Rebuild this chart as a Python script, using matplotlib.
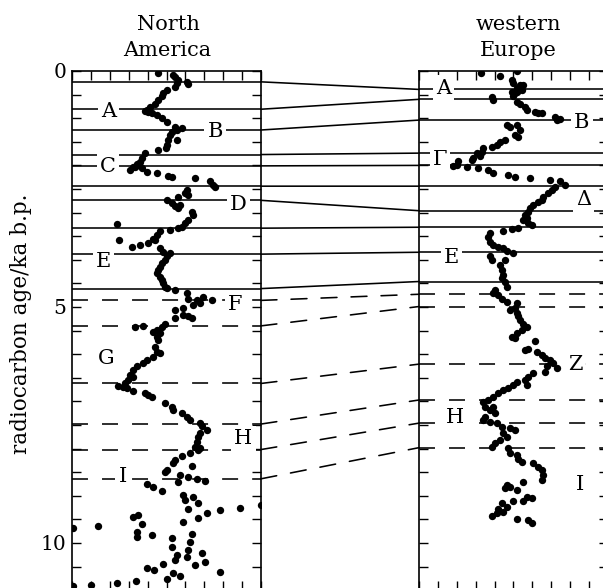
import matplotlib
matplotlib.use('Agg')
import matplotlib.pyplot as plt
from matplotlib.patches import ConnectionPatch
import numpy as np

plt.rcParams['font.family'] = ['DejaVu Serif']

# ---------------- data (x: arbitrary 0-10 units, age: ka b.p.) ----------------
na_x = [
    4.57, 5.36, 5.45, 5.63, 5.54, 5.45, 6.07, 6.12, 5.01, 4.83, 4.74, 4.57, 4.39, 4.13, 3.95, 3.86, 4.04, 4.22, 4.48, 4.74, 5.01,
    5.45, 5.54, 5.80, 5.27, 5.19, 5.54, 5.10, 5.01, 4.97, 4.57, 3.86, 3.69, 3.60, 3.42, 3.25, 3.07, 3.33, 3.51, 3.69, 3.95, 4.48, 5.10, 5.27, 6.51, 7.30, 7.48, 7.57,
    6.07, 5.98, 6.16, 5.63, 5.01, 5.27, 5.45, 5.63, 5.71, 6.33, 6.42, 6.16, 5.98, 5.80, 5.63, 5.19, 4.66, 4.48, 4.39, 2.36, 2.49, 3.16, 3.60, 4.04, 4.30,
    4.66, 4.83, 5.19, 5.01, 4.92, 4.74, 4.66, 4.57, 4.48, 4.66, 4.74, 4.83, 4.92, 5.01, 5.45, 6.07, 6.16, 6.60, 6.77, 6.95, 7.39, 6.42, 5.89, 5.45,
    5.45, 5.89, 6.16, 6.33, 4.92, 4.74, 4.48, 4.30, 3.77, 3.33, 4.66, 4.48, 4.57, 4.39, 4.48, 4.66, 4.30, 3.95, 3.77, 3.42, 3.25, 3.07, 3.25, 2.98, 2.80, 2.45, 2.72, 2.89, 3.25, 3.86, 4.04, 4.22,
    4.92, 5.27, 5.36, 5.80, 6.07, 6.24, 6.77, 6.86, 7.13, 6.77, 6.68, 6.60, 6.51, 6.68, 6.77, 6.24, 5.80, 5.45, 5.36, 5.01, 4.92, 6.33, 5.71, 6.16, 6.60, 7.04, 5.63, 3.95, 4.30, 4.74,
    5.89, 5.98, 6.42, 6.68, 6.16, 7.13, 7.83, 8.89, 10.0, 3.25, 3.51, 3.69, 1.39, 0.05, 5.89, 6.68, 6.33, 6.24, 6.16, 6.86, 3.42, 3.42, 4.22, 5.27, 5.27, 5.54, 5.45, 6.07, 3.95, 4.34, 4.83, 5.36, 5.71, 5.01, 6.51, 7.04, 7.83, 0.05, 0.99, 2.36, 3.39,
]
na_age = [
    0.05, 0.08, 0.12, 0.19, 0.26, 0.33, 0.23, 0.28, 0.40, 0.47, 0.54, 0.61, 0.69, 0.76, 0.83, 0.84, 0.86, 0.90, 0.93, 1.00, 1.07,
    1.18, 1.25, 1.21, 1.29, 1.36, 1.46, 1.46, 1.57, 1.64, 1.67, 1.74, 1.85, 1.92, 1.96, 2.03, 2.10, 2.03, 1.99, 2.06, 2.13, 2.17, 2.22, 2.25, 2.27, 2.34, 2.42, 2.45,
    2.52, 2.59, 2.63, 2.66, 2.73, 2.80, 2.87, 2.91, 2.84, 2.98, 3.05, 3.16, 3.23, 3.30, 3.33, 3.37, 3.40, 3.47, 3.58, 3.25, 3.57, 3.72, 3.69, 3.64, 3.55,
    3.76, 3.83, 3.86, 3.93, 4.00, 4.07, 4.15, 4.22, 4.29, 4.36, 4.43, 4.50, 4.57, 4.60, 4.64, 4.71, 4.82, 4.85, 4.92, 4.78, 4.85, 4.96, 5.03, 5.06,
    5.24, 5.17, 5.20, 5.24, 5.35, 5.42, 5.49, 5.52, 5.40, 5.43, 5.56, 5.63, 5.70, 5.84, 5.95, 5.98, 6.05, 6.12, 6.19, 6.26, 6.33, 6.44, 6.48, 6.55, 6.62, 6.67, 6.69, 6.72, 6.77, 6.83, 6.86, 6.90,
    7.04, 7.11, 7.18, 7.25, 7.32, 7.39, 7.46, 7.53, 7.61, 7.68, 7.75, 7.85, 7.96, 8.03, 7.99, 8.10, 8.16, 8.24, 8.31, 8.45, 8.49, 8.37, 8.56, 8.60, 8.65, 8.68, 8.70, 8.75, 8.82, 8.89,
    8.98, 9.09, 9.02, 9.16, 9.27, 9.37, 9.30, 9.25, 9.20, 9.44, 9.41, 9.60, 9.64, 9.69, 9.55, 9.48, 9.80, 9.97, 10.15, 10.21, 9.76, 9.88, 9.83, 9.90, 10.08, 10.25, 10.36, 10.29, 10.52, 10.57, 10.45, 10.64, 10.70, 10.76, 10.47, 10.40, 10.61, 10.91, 10.88, 10.84, 10.81,
]

eu_x = [
    3.26, 4.29, 5.17, 4.90, 4.99, 5.34, 5.52, 5.17, 4.90, 5.17, 5.43, 5.08, 3.84, 3.93, 4.99, 5.17, 5.34, 5.61, 5.70, 6.14, 6.31, 6.49, 7.20, 7.28, 7.46,
    4.64, 4.81, 5.17, 5.34, 5.08, 5.26, 4.55, 4.29, 4.11, 3.84, 3.40, 3.32, 3.05, 3.23, 2.87, 2.79, 2.08, 1.99, 1.82, 2.52, 3.14, 3.67, 3.93, 4.73, 5.08, 5.87,
    6.93, 7.46, 7.72, 7.20, 7.02, 6.84, 6.58, 6.49, 6.31, 6.05, 5.87, 5.78, 5.61, 5.70, 5.52, 5.78, 5.96, 5.26, 4.90, 4.46,
    3.76, 3.67, 3.76, 3.93, 4.20, 4.46, 4.64, 4.99, 3.76, 3.84, 4.55, 4.29, 4.37, 4.46, 4.37, 4.55, 4.64, 4.02, 3.93, 4.20, 4.37, 4.64, 5.17, 5.08, 4.81, 5.17,
    5.26, 5.34, 5.52, 5.70, 5.43, 5.17, 4.90, 5.08, 6.14, 5.78, 5.61, 6.23, 6.49, 6.67, 6.93, 7.11, 6.75, 7.28, 6.67,
    6.05, 5.78, 5.61, 5.70, 5.17, 4.99, 4.73, 4.46, 4.20, 3.93, 3.67, 3.40, 3.49, 3.93, 3.76, 4.02, 3.49, 3.40, 3.76, 4.11, 4.37, 4.81, 5.08, 4.46, 4.64, 4.29, 4.02, 3.84,
    4.73, 4.81, 5.17, 5.26, 5.43, 6.05, 6.31, 6.49, 6.58, 6.49, 4.64, 4.55, 4.81, 5.17, 5.52, 5.70, 5.96, 5.52, 4.99, 4.64, 4.37, 4.20, 4.46, 4.11, 3.84, 5.17, 5.78, 5.96,
]
eu_age = [
    0.05, 0.10, 0.01, 0.19, 0.26, 0.30, 0.30, 0.37, 0.44, 0.44, 0.40, 0.47, 0.56, 0.61, 0.54, 0.65, 0.69, 0.76, 0.83, 0.86, 0.88, 0.90, 0.97, 1.04, 1.02,
    1.14, 1.18, 1.14, 1.25, 1.36, 1.39, 1.46, 1.50, 1.57, 1.60, 1.64, 1.71, 1.74, 1.81, 1.85, 1.89, 1.90, 1.99, 2.01, 2.03, 2.06, 2.10, 2.17, 2.20, 2.24, 2.27,
    2.31, 2.34, 2.42, 2.45, 2.52, 2.59, 2.66, 2.73, 2.77, 2.84, 2.91, 2.98, 3.05, 3.12, 3.16, 3.23, 3.26, 3.33, 3.35, 3.38,
    3.44, 3.51, 3.62, 3.69, 3.72, 3.76, 3.81, 3.85, 3.93, 4.00, 4.00, 4.11, 4.22, 4.32, 4.39, 4.46, 4.57, 4.64, 4.71, 4.75, 4.82, 4.89, 4.92, 5.03, 5.06, 5.13,
    5.20, 5.28, 5.35, 5.42, 5.49, 5.56, 5.63, 5.66, 5.73, 5.88, 5.91, 5.95, 6.02, 6.09, 6.12, 6.19, 6.26, 6.30, 6.37,
    6.40, 6.48, 6.55, 6.65, 6.58, 6.65, 6.72, 6.76, 6.83, 6.90, 6.97, 7.01, 7.11, 7.11, 7.18, 7.25, 7.32, 7.39, 7.43, 7.46, 7.54, 7.57, 7.61, 7.68, 7.75, 7.82, 7.89, 7.96,
    7.99, 8.10, 8.14, 8.21, 8.28, 8.31, 8.38, 8.45, 8.56, 8.67, 8.77, 8.84, 8.81, 8.88, 8.70, 9.02, 9.05, 9.12, 9.12, 9.23, 9.16, 9.27, 9.34, 9.37, 9.43, 9.49, 9.52, 9.58,
]

# correlation lines (age in each record)
line_na_age = [0.23, 0.81, 1.25, 1.77, 2.01, 2.44, 2.74, 3.33, 3.88, 4.61, 4.86, 5.40, 6.62, 7.48, 8.02, 8.64]
line_eu_age = [0.39, 0.60, 1.04, 1.74, 2.00, 2.44, 2.96, 3.31, 3.84, 4.46, 4.73, 4.99, 6.21, 6.97, 7.46, 7.98]
line_dashed = [False] * 10 + [True] * 6

# feature labels
na_labels = ['A', 'B', 'C', 'D', 'E', 'F', 'G', 'H', 'I']
na_label_x = [1.92, 7.57, 1.92, 8.80, 1.66, 8.62, 1.83, 9.07, 2.68]
na_label_age = [0.83, 1.25, 1.99, 2.80, 4.00, 4.92, 6.05, 7.76, 8.56]
eu_labels = ['A', 'B', 'Γ', 'Δ', 'E', 'Z', 'H', 'I']
eu_label_x = [1.29, 8.61, 1.11, 8.70, 1.73, 8.25, 1.90, 8.52]
eu_label_age = [0.33, 1.07, 1.85, 2.70, 3.93, 6.19, 7.32, 8.74]

assert len(na_x) == len(na_age) and len(eu_x) == len(eu_age)

# ---------------- figure ----------------
W, H = 603, 588
fig = plt.figure(figsize=(W / 100, H / 100), dpi=100)

AGE_MAX = 11.0
px_per_ka = 47.2
top_px = 71
bottom_px = top_px + AGE_MAX * px_per_ka
panel_w = 189

def make_axes(left_px):
    ax = fig.add_axes([left_px / W, (H - bottom_px) / H, panel_w / W, (bottom_px - top_px) / H])
    ax.set_xlim(0, 10)
    ax.set_ylim(AGE_MAX, 0)
    ax.set_xticks(np.arange(0, 11, 1))
    ax.set_yticks([0, 5, 10])
    ax.set_yticks(np.arange(0, AGE_MAX + 0.01, 0.5), minor=True)
    ax.tick_params(which='both', direction='in', length=6.5, width=1.0,
                   top=True, bottom=True, left=True, right=True,
                   labelbottom=False, labeltop=False, labelleft=False)
    for s in ax.spines.values():
        s.set_linewidth(1.2)
    return ax

axL = make_axes(72)
axR = make_axes(419)
axL.tick_params(axis='y', which='major', labelleft=True, labelsize=14.5, pad=4)

LW = 1.15
DASH = (0, (10.0, 8.8))

for yl, yr, d in zip(line_na_age, line_eu_age, line_dashed):
    ls = DASH if d else '-'
    axL.axhline(yl, color='k', lw=LW, ls=ls, zorder=1)
    axR.axhline(yr, color='k', lw=LW, ls=ls, zorder=1)
    con = ConnectionPatch(xyA=(10, yl), coordsA=axL.transData,
                          xyB=(0, yr), coordsB=axR.transData,
                          color='k', lw=LW, linestyle=ls)
    fig.add_artist(con)

axL.scatter(na_x, na_age, s=28, color='k', linewidths=0, zorder=3, clip_on=True)
axR.scatter(eu_x, eu_age, s=28, color='k', linewidths=0, zorder=3, clip_on=True)

def put_labels(ax, labels, xs, ages):
    for t, x, a in zip(labels, xs, ages):
        ax.annotate(t, xy=(x, a), xytext=(0, -5), textcoords='offset points',
                    ha='center', va='baseline', fontsize=15, zorder=4,
                    bbox=dict(boxstyle='square,pad=0.15', fc='white', ec='none'))

put_labels(axL, na_labels, na_label_x, na_label_age)
put_labels(axR, eu_labels, eu_label_x, eu_label_age)

# titles
fig.text(168 / W, 1 - 30.5 / H, 'North', ha='center', va='baseline', fontsize=15)
fig.text(167 / W, 1 - 56 / H, 'America', ha='center', va='baseline', fontsize=15)
fig.text(518 / W, 1 - 30 / H, 'western', ha='center', va='baseline', fontsize=15)
fig.text(518 / W, 1 - 56 / H, 'Europe', ha='center', va='baseline', fontsize=15)

fig.text(21 / W, 1 - 324 / H, 'radiocarbon age/ka b.p.', rotation=90,
         ha='center', va='center', fontsize=15.5)

fig.savefig('out.png', dpi=100)
